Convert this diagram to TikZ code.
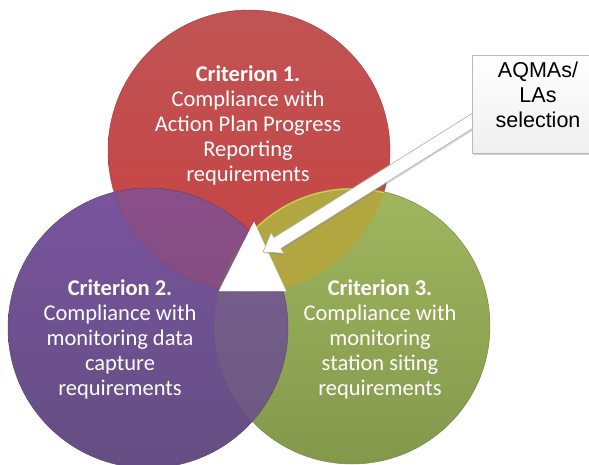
\documentclass[tikz,border=0pt]{standalone}
\usepackage{fontspec}
\newfontfamily\carlito{Carlito}
\newfontfamily\arialf{Liberation Sans}
\usetikzlibrary{calc,shadows}

\definecolor{redA}{RGB}{192,84,84}
\definecolor{redB}{RGB}{214,60,60}
\definecolor{redC}{RGB}{200,66,66}
\definecolor{grnA}{RGB}{160,182,94}
\definecolor{grnB}{RGB}{150,174,82}
\definecolor{grnC}{RGB}{132,152,76}
\definecolor{purA}{RGB}{120,84,158}
\definecolor{purB}{RGB}{110,76,152}
\definecolor{purC}{RGB}{100,78,130}
\definecolor{olv}{RGB}{178,166,64}

\begin{document}
\begin{tikzpicture}[x=1pt,y=-1pt,
  venn/.style={circle, inner sep=0pt, minimum size=#1},
  ctext/.style={text=white, align=center, inner sep=0pt,
    font=\carlito\fontsize{22.5}{25}\selectfont},
  btext/.style={text=black, align=center, inner sep=0pt,
    font=\arialf\fontsize{21.5}{25}\selectfont},
  callout/.style={draw=gray!55, line width=0.6pt, inner sep=0pt,
    minimum width=140pt, minimum height=98pt,
    top color=white, bottom color=gray!12,
    drop shadow={shadow xshift=1.5pt, shadow yshift=-2pt, opacity=0.35}},
  blockarrow/.style={fill=white, draw=gray!65, line width=0.6pt, line join=miter,
    drop shadow={shadow xshift=1pt, shadow yshift=-1.5pt, opacity=0.3}},
  tri/.style={fill=white, draw=white!92!gray, line width=0.4pt,
    drop shadow={shadow xshift=1pt, shadow yshift=-1pt, opacity=0.15}}
]
\clip (0,0) rectangle (589,464);
\fill[white] (0,0) rectangle (589,464);

% circles
\node[venn=282pt, top color=redA, middle color=redB, bottom color=redC,
  draw=redC!85!black, line width=0.4pt] (c1) at (249,151) {};
\node[venn=276pt, top color=grnA, middle color=grnB, bottom color=grnC,
  draw=grnC!85!black, line width=0.4pt] (c3) at (352,326) {};
\begin{scope}
  \clip (249,151) circle[radius=141];
  \fill[olv] (352,326) circle[radius=138];
  \draw[yellow!60!white, opacity=0.5, line width=1pt] (352,326) circle[radius=137];
\end{scope}
\node[venn=280pt, top color=purA, middle color=purB, bottom color=purC,
  draw=purC!85!black, line width=0.4pt] (c2) at (148,328) {};
\begin{scope}
  \clip (148,328) circle[radius=140];
  \fill[redB, fill opacity=0.2] (249,151) circle[radius=141];
  \fill[grnB, fill opacity=0.12] (352,326) circle[radius=138];
  \draw[redC!70!black, opacity=0.25, line width=0.5pt] (249,151) circle[radius=141];
  \draw[grnC!70!black, opacity=0.25, line width=0.5pt] (352,326) circle[radius=138];
\end{scope}

% texts
\node[ctext] (t1) at (248,125) {\textbf{Criterion 1.}\\Compliance with\\Action Plan Progress\\Reporting\\requirements};
\node[ctext] (t2) at (120,339) {\textbf{Criterion 2.}\\Compliance with\\monitoring data\\capture\\requirements};
\node[ctext] (t3) at (380,339) {\textbf{Criterion 3.}\\Compliance with\\monitoring\\station siting\\requirements};

% central triangle
\path[tri] (254,222) -- (219,291) -- (286,291) -- cycle;

% block arrow
\coordinate (tip) at (263,252);
\coordinate (tail) at (490,110);
\coordinate (hb) at ($(tip)!17pt!(tail)$);
\path[blockarrow] (tip) -- ($(hb)!12pt!90:(tail)$) -- ($(hb)!6.5pt!90:(tail)$)
  -- ($(tail)!6.5pt!-90:(tip)$) -- ($(tail)!6.5pt!90:(tip)$)
  -- ($(hb)!6.5pt!-90:(tail)$) -- ($(hb)!12pt!-90:(tail)$) -- cycle;

% callout box
\node[callout] (box) at (542,104) {};
\node[btext] (boxlabel) at (538,95) {AQMAs/\\LAs\\selection};
\end{tikzpicture}
\end{document}
